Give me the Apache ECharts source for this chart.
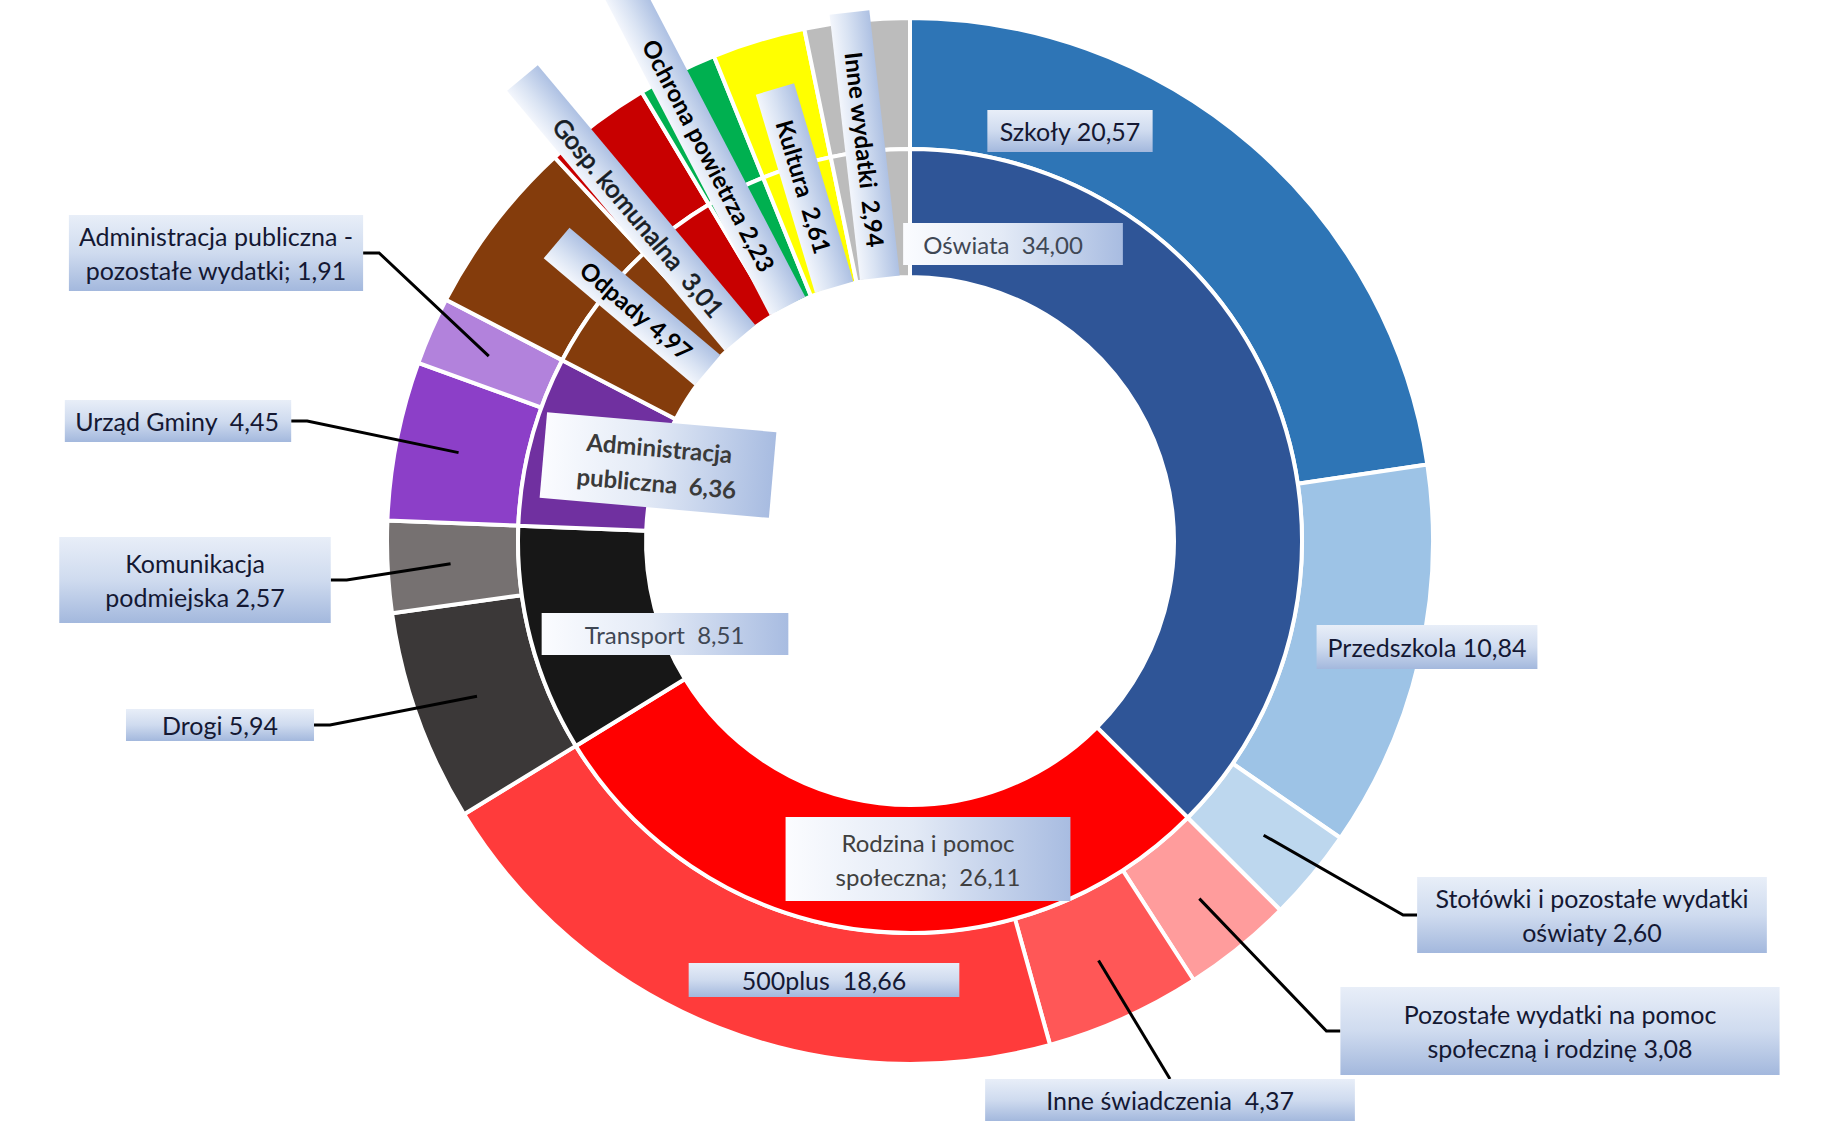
<!DOCTYPE html>
<html><head><meta charset="utf-8">
<script src="https://cdn.jsdelivr.net/npm/echarts/dist/echarts.min.js"></script>
<style>html,body{margin:0;padding:0;background:#fff}#c{width:1823px;height:1139px}</style>
</head><body><div id="c"></div>
<script>
// ---------- DATA ----------
const innerNames = ['Oświata','Rodzina i pomoc społeczna','Transport','Administracja publiczna','Odpady','Gosp. komunalna','Ochrona powietrza','Kultura','Inne wydatki'];
const innerValues = [34.00, 26.11, 8.51, 6.36, 4.97, 3.01, 2.23, 2.61, 2.94];
const innerLabelText = ['Oświata  {v}','Rodzina i pomoc\nspołeczna;  {v}','Transport  {v}','Administracja\npubliczna  {v}','Odpady {v}','Gosp. komunalna  {v}','Ochrona powietrza {v}','Kultura  {v}','Inne wydatki  {v}'];

const outerNames = ['Szkoły','Przedszkola','Stołówki i pozostałe wydatki oświaty','Pozostałe wydatki na pomoc społeczną i rodzinę','Inne świadczenia','500plus','Drogi','Komunikacja podmiejska','Urząd Gminy','Administracja publiczna - pozostałe wydatki','Odpady','Gosp. komunalna','Ochrona powietrza','Kultura','Inne wydatki'];
const outerValues = [20.57, 10.84, 2.60, 3.08, 4.37, 18.66, 5.94, 2.57, 4.45, 1.91, 4.97, 3.01, 2.23, 2.61, 2.94];
const outerLabelText = ['Szkoły {v}','Przedszkola {v}','Stołówki i pozostałe wydatki\noświaty {v}','Pozostałe wydatki na pomoc\nspołeczną i rodzinę {v}','Inne świadczenia  {v}','500plus  {v}','Drogi {v}','Komunikacja\npodmiejska {v}','Urząd Gminy  {v}','Administracja publiczna -\npozostałe wydatki; {v}',null,null,null,null,null];

// ---------- STYLES ----------
const innerColors = ['#2F5597','#FF0000','#171717','#7030A0','#843C0C','#C80000','#00B050','#FFFF00','#BCBCBC'];
const outerColors = ['#2E75B6','#9DC3E6','#BDD7EE','#FF9C9C','#FF5757','#FF3B3B','#3B3838','#767171','#8C3FC8','#B282DC','#843C0C','#C80000','#00B050','#FFFF00','#BCBCBC'];

const CX = 910, CY = 541, R_HOLE = 264, R_MID = 392, R_OUT = 523, LINE_R = 460;
const FONT = 'Lato, "Open Sans", sans-serif';

const GRAD_H = () => ({type:'linear',x:0,y:0,x2:1,y2:0,colorStops:[{offset:0,color:'#FBFCFF'},{offset:0.45,color:'#E3EAF6'},{offset:1,color:'#A8BCE1'}]});
const GRAD_V = () => ({type:'linear',x:0,y:0,x2:0,y2:1,colorStops:[{offset:0,color:'#E8EEF8'},{offset:0.5,color:'#CFDBEF'},{offset:1,color:'#A3B8DD'}]});
const GRAD_R = () => ({type:'linear',x:0,y:0,x2:0,y2:1,colorStops:[{offset:0,color:'#AEC1E3'},{offset:0.6,color:'#D9E3F3'},{offset:1,color:'#F3F6FC'}]});

const innerLabelStyle = [
  {fontSize:24, color:'#3f4754', backgroundColor:GRAD_H(), padding:[6,40,6,20], lineHeight:30},
  {fontSize:24, color:'#404040', backgroundColor:GRAD_H(), padding:[8,50,8,50], lineHeight:34},
  {fontSize:24, color:'#3f4754', backgroundColor:GRAD_H(), padding:[6,44,6,43], lineHeight:30},
  {fontSize:24, fontWeight:'bold', color:'#3a3a3a', backgroundColor:GRAD_H(), padding:[8,35,8,35], lineHeight:35},
  {fontSize:24, fontWeight:'bold', color:'#000', backgroundColor:GRAD_R(), padding:[7,24,7,35], lineHeight:26},
  {fontSize:25, fontWeight:'normal', color:'#161c24', textBorderColor:'#161c24', textBorderWidth:0.7, backgroundColor:GRAD_R(), padding:[7,32,7,56], lineHeight:26},
  {fontSize:24, fontWeight:'bold', color:'#000', backgroundColor:GRAD_R(), padding:[7,41,7,80], lineHeight:26},
  {fontSize:24, fontWeight:'bold', color:'#000', backgroundColor:GRAD_R(), padding:[7,36,7,33], lineHeight:26},
  {fontSize:24, fontWeight:'bold', color:'#000', backgroundColor:GRAD_R(), padding:[7,31,7,39], lineHeight:26}
];
const outerLabelStyle = [
  {position:'inside', padding:[6,12,6,12], lineHeight:30},
  {position:'inside', padding:[7,11,7,11], lineHeight:30},
  {position:'outside', padding:[4,18,4,18], lineHeight:34},
  {position:'outside', padding:[10,63,10,63], lineHeight:34},
  {position:'outside', padding:[6,61,6,61], lineHeight:30},
  {position:'inside', padding:[3,53,3,53], lineHeight:28},
  {position:'outside', padding:[2,36,2,36], lineHeight:28},
  {position:'outside', padding:[9,46,9,46], lineHeight:34},
  {position:'outside', padding:[6,12,6,10], lineHeight:30},
  {position:'outside', padding:[4,10,4,10], lineHeight:34},
  null,null,null,null,null
];
// label placement (layout, not data); dA = angular nudge in degrees for radial labels
const innerPos = [{x:1013,y:244},{x:928,y:859},{x:665,y:634},{x:658,y:465,rotate:-5},
  {r:265,dA:2.8},{r:265,dA:-3.1},{r:265,dA:-1.1},{r:265,dA:0.2},{r:265,dA:-0.7}];
const outerPos = [{x:1070,y:131},{x:1427,y:647},{x:1592,y:915,line:'right'},{x:1560,y:1031,line:'right'},{x:1170,y:1100,line:'top'},{x:824,y:980},{x:220,y:725,line:'left'},{x:195,y:580,line:'left'},{x:178,y:421,line:'left'},{x:216,y:253,line:'left'},null,null,null,null,null];

// ---------- helpers ----------
const fmt = v => v.toFixed(2).replace('.', ',');
function midAngle(values, i){
  let total = 0, cum = 0;
  values.forEach((v,j)=>{ total += v; if (j < i) cum += v; });
  return (cum + values[i]/2) / total * 2 * Math.PI; // clockwise from 12 o'clock
}
function polar(r, a){ return [CX + r*Math.sin(a), CY - r*Math.cos(a)]; }

const innerData = innerNames.map((n,i)=>({
  name:n, value:innerValues[i], itemStyle:{color:innerColors[i]},
  label:Object.assign({show:true, position:'inside', fontFamily:FONT,
    formatter: () => innerLabelText[i].replace('{v}', fmt(innerValues[i]))}, innerLabelStyle[i])
}));
const outerData = outerNames.map((n,i)=>({
  name:n, value:outerValues[i], itemStyle:{color:outerColors[i]}
}));
// transparent twin of the outer ring that carries the labels + leader lines above the sectors
const outerLabelData = outerNames.map((n,i)=>({
  name:n, value:outerValues[i], itemStyle:{color:'rgba(0,0,0,0)', borderWidth:0},
  label: outerLabelText[i] ? Object.assign({show:true, fontFamily:FONT, fontSize:25, color:'#141833',
    backgroundColor:GRAD_V(), formatter: () => outerLabelText[i].replace('{v}', fmt(outerValues[i]))}, outerLabelStyle[i]) : {show:false},
  labelLine: {show: !!(outerPos[i] && outerPos[i].line), lineStyle:{color:'#000', width:3}}
}));

const chart = echarts.init(document.getElementById('c'), null, {renderer:'svg'});
chart.setOption({
  backgroundColor:'#ffffff',
  animation:false,
  series:[
    {
      type:'pie', z:3, center:[CX,CY], radius:[R_HOLE,R_MID], startAngle:90, clockwise:true,
      avoidLabelOverlap:false, silent:true, emphasis:{disabled:true},
      itemStyle:{borderColor:'#ffffff', borderWidth:4},
      labelLine:{show:false},
      data: innerData,
      labelLayout: function(p){
        const L = innerPos[p.dataIndex];
        if (!L) return {};
        if (L.r != null){
          const a = midAngle(innerValues, p.dataIndex) + (L.dA||0) * Math.PI / 180;
          const pt = polar(L.r, a);
          const rot = Math.atan2(-Math.cos(a), -Math.sin(a)) * 180 / Math.PI;
          return {x:pt[0], y:pt[1], align:'right', verticalAlign:'middle', rotate:rot};
        }
        return {x:L.x, y:L.y, align:'center', verticalAlign:'middle', rotate:L.rotate||0};
      }
    },
    {
      type:'pie', z:2, center:[CX,CY], radius:[R_MID,R_OUT], startAngle:90, clockwise:true,
      avoidLabelOverlap:false, silent:true, emphasis:{disabled:true},
      itemStyle:{borderColor:'#ffffff', borderWidth:4},
      label:{show:false}, labelLine:{show:false},
      data: outerData
    },
    {
      type:'pie', z:4, center:[CX,CY], radius:[R_MID,R_OUT], startAngle:90, clockwise:true,
      avoidLabelOverlap:false, silent:true, emphasis:{disabled:true},
      label:{alignTo:'none'},
      data: outerLabelData,
      labelLayout: function(p){
        const L = outerPos[p.dataIndex];
        if (!L) return {};
        const res = {x:L.x, y:L.y, align:'center', verticalAlign:'middle'};
        if (L.line){
          const s = polar(LINE_R, midAngle(outerValues, p.dataIndex));
          const w = p.labelRect.width, h = p.labelRect.height;
          let end, bend;
          if (L.line === 'left'){ end = [L.x + w/2, L.y]; bend = [end[0] + 16, L.y]; }
          else if (L.line === 'right'){ end = [L.x - w/2, L.y]; bend = [end[0] - 14, L.y]; }
          else { end = [L.x, L.y - h/2]; bend = end; }
          res.labelLinePoints = [s, bend, end];
        }
        return res;
      }
    }
  ]
});
</script></body></html>
